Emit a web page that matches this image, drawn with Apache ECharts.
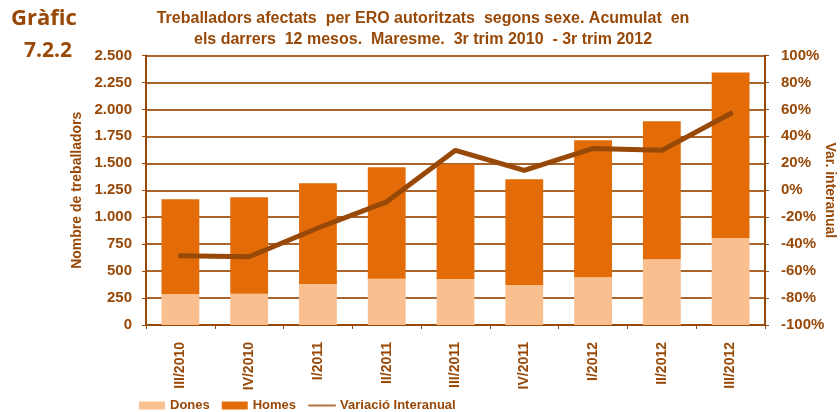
<!DOCTYPE html>
<html>
<head>
<meta charset="utf-8">
<script src="https://cdn.jsdelivr.net/npm/echarts@6/dist/echarts.min.js"></script>
<style>
  html, body { margin: 0; padding: 0; background: #fff; }
  #chart { width: 840px; height: 412px; }
</style>
</head>
<body>
<div id="chart"></div>
<script>
// Dades llegides del gràfic
const trimestres = ['III/2010', 'IV/2010', 'I/2011', 'II/2011', 'III/2011', 'IV/2011', 'I/2012', 'II/2012', 'III/2012'];
const dones = [287, 290, 380, 429, 426, 370, 444, 611, 806];
const homes = [880, 895, 935, 1034, 1065, 982, 1269, 1278, 1537];
const variacio = [-48.7, -49.4, -28, -8.6, 29.6, 14.8, 31, 29.6, 57];

const marro = '#984807';
const graella = '#A8652E';

const chart = echarts.init(document.getElementById('chart'), null, { renderer: 'canvas' });

function milers(v) {
    return String(v).replace(/\B(?=(\d{3})+(?!\d))/g, '.');
}

const option = {
    animation: false,
    textStyle: { fontFamily: 'Liberation Sans', color: marro },
    title: [
        {
            text: 'Treballadors afectats  per ERO autoritzats  segons sexe. Acumulat  en\nels darrers  12 mesos.  Maresme.  3r trim 2010  - 3r trim 2012',
            left: 418, top: 3, textAlign: 'center',
            textStyle: { fontSize: 16, fontWeight: 'bold', color: marro, lineHeight: 21, fontFamily: 'Liberation Sans' }
        },
        {
            text: 'Gràfic',
            left: 6, top: 3,
            textStyle: { fontSize: 22, fontWeight: 'bold', color: marro, fontFamily: 'Open Sans' }
        },
        {
            text: '7.2.2',
            left: 19, top: 36,
            textStyle: { fontSize: 21, fontWeight: 'bold', color: marro, fontFamily: 'Open Sans' }
        }
    ],
    legend: {
        left: 134, top: 394,
        itemWidth: 26, itemHeight: 8, itemGap: 12,
        textStyle: { fontSize: 13, fontWeight: 'bold', color: marro },
        data: [
            { name: 'Dones', icon: 'rect' },
            { name: 'Homes', icon: 'rect' },
            { name: 'Variació Interanual', itemStyle: { opacity: 0 }, lineStyle: { width: 2, color: '#B0743E' } }
        ]
    },
    grid: { left: 146, right: 75, top: 55.5, bottom: 87, outerBoundsMode: 'none' },
    xAxis: {
        type: 'category',
        data: trimestres,
        axisLine: { lineStyle: { color: marro, width: 2 } },
        axisTick: { show: true, length: 4, lineStyle: { color: marro } },
        axisLabel: { rotate: 90, fontSize: 14, fontWeight: 'bold', color: marro, margin: 17 }
    },
    yAxis: [
        {
            type: 'value', min: 0, max: 2500, interval: 250,
            name: 'Nombre de treballadors', nameLocation: 'middle', nameGap: 62, nameRotate: 90,
            nameMoveOverlap: false,
            nameTextStyle: { fontSize: 14, fontWeight: 'bold', color: marro },
            axisLine: { show: true, lineStyle: { color: marro, width: 2 } },
            axisTick: { show: true, length: 4, lineStyle: { color: marro } },
            axisLabel: { fontSize: 15, fontWeight: 'bold', color: marro, margin: 14, formatter: milers },
            splitLine: { lineStyle: { color: graella, width: 2 } }
        },
        {
            type: 'value', min: -100, max: 100, interval: 20,
            name: 'Var. interanual', nameLocation: 'middle', nameGap: 58, nameRotate: -90,
            nameMoveOverlap: false,
            nameTextStyle: { fontSize: 14, fontWeight: 'bold', color: marro },
            axisLine: { show: true, lineStyle: { color: marro, width: 2 } },
            axisTick: { show: true, length: 4, lineStyle: { color: marro } },
            axisLabel: { fontSize: 15, fontWeight: 'bold', color: marro, margin: 16, formatter: '{value}%' },
            splitLine: { show: false }
        }
    ],
    series: [
        {
            name: 'Dones', type: 'bar', stack: 'total', barWidth: '55%',
            itemStyle: { color: '#F9BF8F' },
            data: dones
        },
        {
            name: 'Homes', type: 'bar', stack: 'total',
            itemStyle: { color: '#E36C09' },
            data: homes
        },
        {
            name: 'Variació Interanual', type: 'line', yAxisIndex: 1,
            showSymbol: false, symbol: 'none',
            lineStyle: { color: marro, width: 5, cap: 'round' },
            itemStyle: { color: marro },
            data: variacio
        }
    ]
};

chart.setOption(option);
window.addEventListener('resize', chart.resize);
</script>
</body>
</html>
